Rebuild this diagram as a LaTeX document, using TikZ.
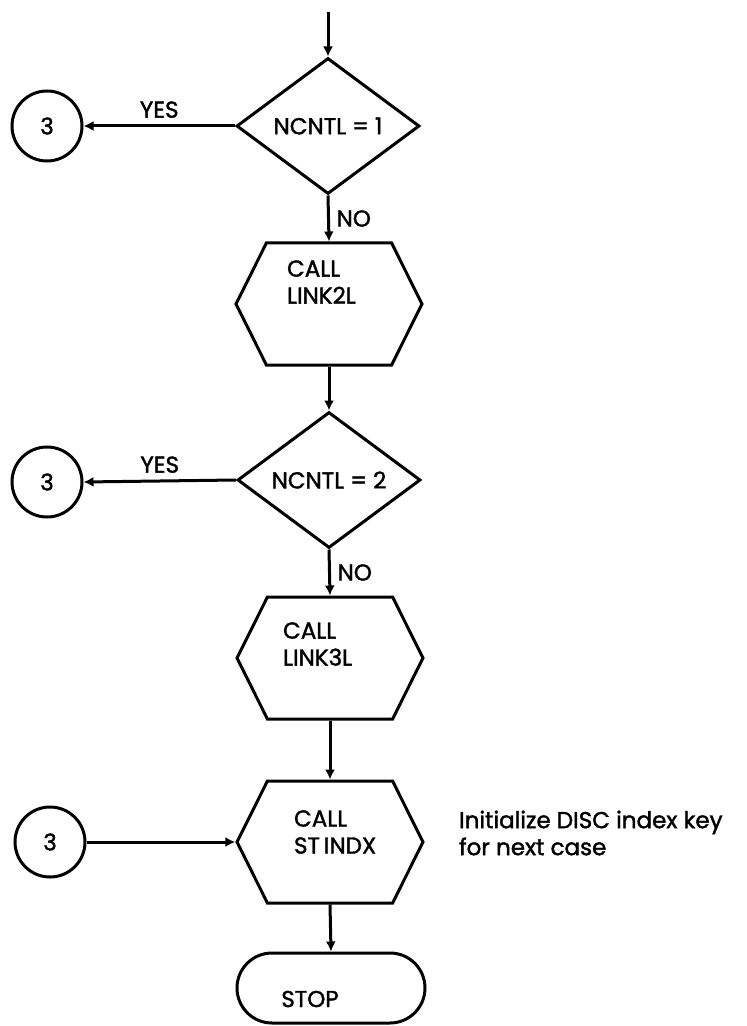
\documentclass[tikz,border=0pt]{standalone}
\usepackage{fontspec}
\setmainfont{Poppins}
\newfontfamily\chartfamily{Poppins}[FakeBold=1.6]
\usetikzlibrary{shapes.geometric,shapes.symbols,shapes.misc,arrows.meta}
\newcommand\chartfont{\chartfamily\fontsize{11.5}{13.5}\selectfont}
\tikzset{
  flow/.style={line width=1.5pt,-{Latex[length=5pt,width=5pt]}},
  decision/.style={diamond,draw,line width=1.5pt,minimum width=91.5pt,minimum height=68pt,inner sep=0pt,font=\chartfont},
  callbox/.style={signal,signal to=east and west,signal pointer angle=127,draw,line width=1.5pt,minimum width=93pt,minimum height=61pt,inner sep=0pt},
  connector/.style={circle,draw,line width=1.5pt,minimum size=35pt,inner sep=0pt,font=\chartfont},
  terminal/.style={rounded rectangle,draw,line width=1.5pt,minimum width=94pt,minimum height=35pt,inner sep=0pt},
  calltext/.style={anchor=west,align=left,font=\chartfont},
  branch/.style={font=\chartfont}
}
\begin{document}
\begin{tikzpicture}[x=0.5pt,y=-0.5pt]
\useasboundingbox (0,0) rectangle (747,1026);
% first test
\coordinate (start) at (328,12);
\node[decision] (ncntl1) at (328,126) {NCNTL = 1};
\node[connector] (goto1) at (47,126) {3};
\draw[flow] (start) -- (ncntl1.north);
\draw[flow] (ncntl1.west) -- node[branch,above] {YES} (goto1.east);
\node[callbox] (link2) at (329,304) {};
\node[calltext] at (280,282) {CALL\\LINK2L};
\draw[flow] (ncntl1.south) -- node[branch,right] {NO} (link2.north);
% second test
\node[decision] (ncntl2) at (329,480) {NCNTL = 2};
\node[connector] (goto2) at (47,482) {3};
\draw[flow] (link2.south) -- (ncntl2.north);
\draw[flow] (ncntl2.west) -- node[branch,above] {YES} (goto2.east);
\node[callbox] (link3) at (330,658) {};
\node[calltext] at (276,644) {CALL\\LINK3L};
\draw[flow] (ncntl2.south) -- node[branch,right] {NO} (link3.north);
% index key and stop
\node[callbox] (stindx) at (330,842) {};
\node[calltext] at (287,832) {CALL\\ST\,INDX};
\node[connector] (entry3) at (50,842) {3};
\draw[flow] (link3.south) -- (stindx.north);
\draw[flow] (entry3.east) -- (stindx.west);
\node[calltext] (note) at (452,833) {Initialize DISC index key\\for next case};
\node[terminal] (stop) at (331,988) {};
\node[branch] at (310,999) {STOP};
\draw[flow] (stindx.south) -- (stop.north);
\end{tikzpicture}
\end{document}
